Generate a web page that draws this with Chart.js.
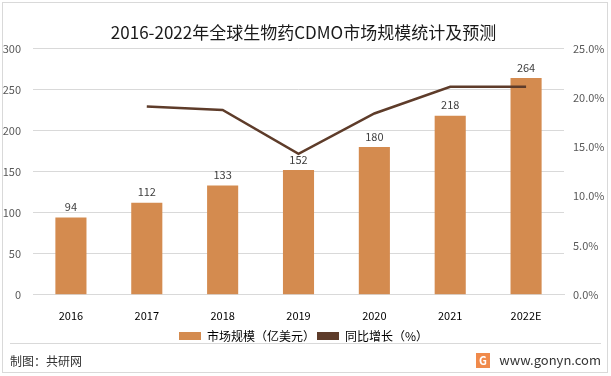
<!DOCTYPE html>
<html>
<head>
<meta charset="utf-8">
<script src="https://cdn.jsdelivr.net/npm/chart.js@4"></script>
<style>
  html, body { margin: 0; padding: 0; background: #fff; }
  #wrap { width: 611px; height: 376px; }
</style>
</head>
<body>
<div id="wrap"><canvas id="cdmoChart" width="611" height="376"></canvas></div>
<script>
// 数据
const years = ['2016', '2017', '2018', '2019', '2020', '2021', '2022E'];
const marketSize = [94, 112, 133, 152, 180, 218, 264];          // 亿美元
const growthRate = [null, 0.191, 0.1875, 0.143, 0.184, 0.211, 0.211]; // 同比增长
const leftTicks = [0, 50, 100, 150, 200, 250, 300];
const rightTicks = [0, 0.05, 0.10, 0.15, 0.20, 0.25];

const fontFamily = '"Microsoft YaHei", "Noto Sans CJK SC", "DejaVu Sans", sans-serif';

// 柱子上方的数值、边框和底部“制图”文字
const decorPlugin = {
  id: 'decor',
  afterDatasetsDraw(chart) {
    const ctx = chart.ctx;
    const meta = chart.getDatasetMeta(1);
    ctx.save();
    ctx.font = '11px ' + fontFamily;
    ctx.fillStyle = '#404040';
    ctx.textAlign = 'center';
    ctx.textBaseline = 'bottom';
    meta.data.forEach((bar, i) => {
      ctx.fillText(marketSize[i], bar.x, bar.y - 5);
    });
    ctx.restore();
  },
  afterDraw(chart) {
    const ctx = chart.ctx;
    ctx.save();
    ctx.strokeStyle = '#d9d9d9';
    ctx.lineWidth = 1;
    ctx.strokeRect(2.5, 2.5, 605, 370);
    ctx.beginPath();
    ctx.moveTo(10, 343.5);
    ctx.lineTo(601, 343.5);
    ctx.stroke();
    ctx.font = '12px ' + fontFamily;
    ctx.fillStyle = '#333';
    ctx.textBaseline = 'middle';
    ctx.textAlign = 'left';
    ctx.fillText('制图：共研网', 10, 361);
    ctx.textAlign = 'right';
    ctx.font = '13px ' + fontFamily;
    ctx.fillText('www.gonyn.com', 601, 360);
    // 小图标
    ctx.fillStyle = '#f08a4b';
    ctx.fillRect(476, 353, 14, 15);
    ctx.fillStyle = '#fff';
    ctx.font = 'bold 11px ' + fontFamily;
    ctx.textAlign = 'center';
    ctx.fillText('G', 483, 361);
    ctx.restore();
  }
};

const ctx = document.getElementById('cdmoChart').getContext('2d');
const cdmoChart = new Chart(ctx, {
  data: {
    labels: years,
    datasets: [
      {
        type: 'line',
        label: '同比增长（%）',
        data: growthRate,
        yAxisID: 'y1',
        borderColor: '#5e3c2a',
        backgroundColor: '#5e3c2a',
        borderWidth: 2.5,
        pointRadius: 0,
        tension: 0,
        order: 0
      },
      {
        type: 'bar',
        label: '市场规模（亿美元）',
        data: marketSize,
        yAxisID: 'y',
        backgroundColor: '#d48b4f',
        categoryPercentage: 1,
        barPercentage: 0.41,
        order: 1
      }
    ]
  },
  options: {
    responsive: false,
    animation: false,
    layout: { padding: { left: 0, right: 4, top: 6, bottom: 24 } },
    plugins: {
      title: {
        display: true,
        text: '2016-2022年全球生物药CDMO市场规模统计及预测',
        color: '#1a1a1a',
        font: { family: fontFamily, size: 17, weight: 'normal' },
        padding: { top: 16, bottom: 6 }
      },
      legend: {
        position: 'bottom',
        labels: {
          color: '#404040',
          font: { family: fontFamily, size: 12 },
          boxWidth: 22,
          boxHeight: 8,
          padding: 2,
          generateLabels(chart) {
            return chart.data.datasets.map((ds, i) => ({
              text: ds.label,
              fillStyle: ds.type === 'line' ? ds.borderColor : ds.backgroundColor,
              strokeStyle: ds.type === 'line' ? ds.borderColor : ds.backgroundColor,
              lineWidth: 0,
              datasetIndex: i
            })).reverse();
          }
        }
      },
      tooltip: { enabled: false }
    },
    scales: {
      x: {
        grid: { display: false },
        border: { color: '#d9d9d9' },
        ticks: { color: '#000', font: { family: fontFamily, size: 11 }, padding: 6 }
      },
      y: {
        position: 'left',
        min: 0,
        max: 300,
        afterBuildTicks(axis) { axis.ticks = leftTicks.map(v => ({ value: v })); },
        afterFit(axis) { axis.width = 33; },
        grid: { color: '#d9d9d9', drawTicks: false },
        border: { display: false },
        ticks: { color: '#595959', font: { family: fontFamily, size: 11 }, padding: 12 }
      },
      y1: {
        position: 'right',
        min: 0,
        max: 0.25,
        afterBuildTicks(axis) { axis.ticks = rightTicks.map(v => ({ value: v })); },
        afterFit(axis) { axis.width = 43; },
        grid: { display: false, drawTicks: false },
        border: { display: false },
        ticks: {
          color: '#595959',
          font: { family: fontFamily, size: 11 },
          padding: 9,
          callback: v => (v * 100).toFixed(1) + '%'
        }
      }
    }
  },
  plugins: [decorPlugin]
});
</script>
</body>
</html>
